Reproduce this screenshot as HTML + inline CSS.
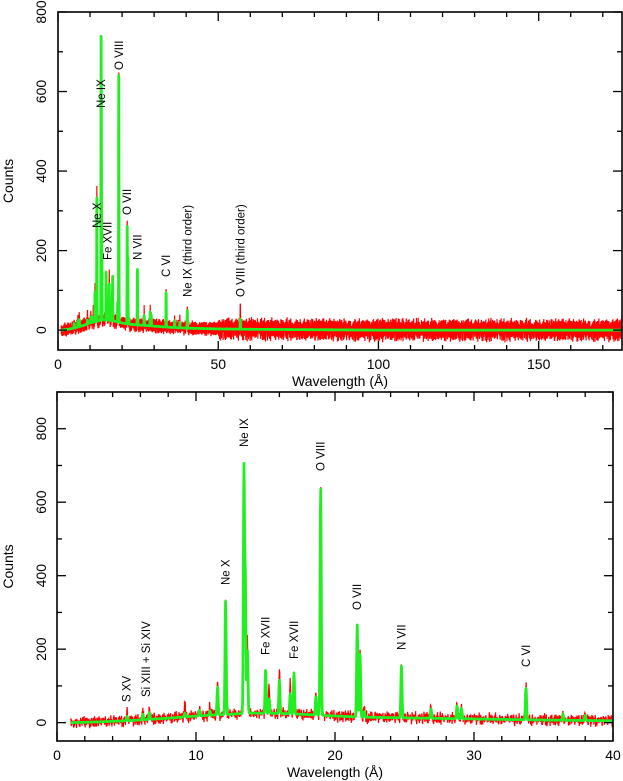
<!DOCTYPE html>
<html><head><meta charset="utf-8"><style>
html,body{margin:0;padding:0;background:#fff;}
svg{display:block;font-family:"Liberation Sans",sans-serif;}
</style></head><body>
<svg id="chart" width="623" height="781" viewBox="0 0 623 781"></svg>
<script>
// ---- data arrays ----
const lineWave   = [5.04, 6.18, 6.65, 9.2, 10.24, 11.0, 11.55, 12.13, 13.45, 13.55, 13.7, 15.01, 15.26, 16.0, 16.78, 17.05, 18.63, 18.97, 21.6, 21.8, 22.1, 24.78, 26.9, 28.78, 29.1, 33.74, 36.4, 38.0, 40.35, 56.9];
const lineModel  = [12, 15, 18, 10, 15, 12, 75, 310, 665, 360, 170, 120, 40, 90, 55, 112, 50, 620, 250, 170, 15, 142, 25, 35, 28, 88, 17, 14, 45, 25];
const lineData   = [20, 22, 28, 35, 25, 30, 88, 330, 650, 430, 200, 118, 85, 118, 85, 110, 58, 630, 260, 185, 25, 142, 35, 40, 32, 100, 22, 22, 45, 65];
const contWave   = [0, 1, 3, 5, 8, 10, 12, 14, 16, 18, 20, 22, 25, 30, 35, 40, 50, 60, 100, 176];
const contLevel  = [0, 0, 2, 5, 12, 18, 22, 26, 25, 22, 18, 15, 13, 10, 7, 5, 3, 2, 0, 0];
const noiseVals  = [0.3,-0.8,0.5,1.0,-0.4,-1.0,0.7,0.1,-0.6,0.9,-0.2,0.4,-0.9,0.6,-0.3,0.8,-0.7,0.2,1.0,-0.5,0.0,-0.9,0.5,0.3,-0.6,0.7,-1.0,0.4,0.9,-0.2,-0.5,0.6,-0.8,0.1,0.8,-0.4,0.3,-0.7,1.0,-0.1,0.5,-0.9,0.2,0.7,-0.3,-0.8,0.6,0.0,0.9,-0.6,0.4,-0.4,0.1];
const yTicks = [0, 200, 400, 600, 800];
const topXTicks = [0, 50, 100, 150];
const botXTicks = [0, 10, 20, 30, 40];
const topLabels = [["Ne X",12.13,228],["Ne IX",13.45,108],["O VIII",18.97,70],["Fe XVII",15.5,260],["O VII",21.6,215],["N VII",24.78,260],["C VI",33.74,277],["Ne IX (third order)",40.35,297],["O VIII (third order)",56.9,297]];
const botLabels = [["S XV",5.0,702],["Si XIII + Si XIV",6.4,697],["Ne X",12.13,585],["Ne IX",13.45,447],["Fe XVII",15.01,655],["Fe XVII",17.05,659],["O VIII",18.97,471],["O VII",21.6,610],["N VII",24.78,650],["C VI",33.74,667]];

const NS="http://www.w3.org/2000/svg";
const svg=document.getElementById('chart');
function el(tag,attrs,parent){const e=document.createElementNS(NS,tag);for(const k in attrs)e.setAttribute(k,attrs[k]);(parent||svg).appendChild(e);return e;}
function cont(w){for(let i=1;i<contWave.length;i++){if(w<=contWave[i]){const t=(w-contWave[i-1])/(contWave[i]-contWave[i-1]);return contLevel[i-1]+t*(contLevel[i]-contLevel[i-1]);}}return 0;}
function lines(w,arr,sig){let s=0;for(let i=0;i<lineWave.length;i++){const d=(w-lineWave[i])/sig;if(Math.abs(d)<5)s+=arr[i]*Math.exp(-0.5*d*d);}return s;}
function noise(i){return 0.6*noiseVals[i%noiseVals.length]+0.5*noiseVals[(i*7+3)%47];}

function panel(p){
  const g=el('g',{});
  
  
  const X=w=>p.x0+(w-p.xmin)/(p.xmax-p.xmin)*(p.x1-p.x0);
  const Y=c=>p.y0-(c-p.ymin)/(p.ymax-p.ymin)*(p.y0-p.y1);
  let dRed='',dGreen='';let i=0;
  for(let w=p.start;w<=p.end;w+=p.step,i++){
    const c=cont(w);
    const amp=w<50?p.nAmp:p.nAmp2;
    const m=c+lines(w,lineModel,p.sig);
    const d=c+lines(w,lineData,p.sig)+amp*noise(i);
    dRed+=(i?'L':'M')+X(w).toFixed(2)+' '+Y(d).toFixed(2);
    dGreen+=(i?'L':'M')+X(w).toFixed(2)+' '+Y(m).toFixed(2);
  }
  const r=el('path',{d:dRed,fill:'none',stroke:'#ff0000','stroke-width':1.2},g);
  
  
  const gr=el('path',{d:dGreen,fill:'none',stroke:'#22ee22','stroke-width':2.8,'stroke-linejoin':'round'},g);
  
  
  const fr=el('rect',{x:p.x0,y:p.y1,width:p.x1-p.x0,height:p.y0-p.y1,fill:'none',stroke:'#000','stroke-width':1.6},g);
  
  
  for(let v=0;v<=p.ymax;v+=100){const y=Y(v);const L=(v%200===0)?9:5;
    el('line',{x1:p.x0,x2:p.x0+L,y1:y,y2:y,stroke:'#000','stroke-width':1.3},g);el('line',{x1:p.x1,x2:p.x1-L,y1:y,y2:y,stroke:'#000','stroke-width':1.3},g);}
  yTicks.forEach(v=>{const y=Y(v);const t=el('text',{x:0,y:0,transform:`translate(46,${y}) rotate(-90)`,'text-anchor':'middle','font-size':14},g);t.textContent=v;
    
    });
  for(let v=p.xmin;v<=p.xmax;v+=p.minor){const x=X(v);const L=(Math.abs(v/p.major-Math.round(v/p.major))<1e-6)?9:5;
    el('line',{x1:x,x2:x,y1:p.y0,y2:p.y0-L,stroke:'#000','stroke-width':1.3},g);el('line',{x1:x,x2:x,y1:p.y1,y2:p.y1+L,stroke:'#000','stroke-width':1.3},g);}
  p.xt.forEach(v=>{const t=el('text',{x:X(v),y:p.y0+19,'text-anchor':'middle','font-size':14},g);t.textContent=v;
    
    });
  const xl=el('text',{x:(p.x0+p.x1)/2,y:p.y0+36,'text-anchor':'middle','font-size':14},g);xl.textContent='Wavelength (Å)';
  
  
  const yl=el('text',{x:0,y:0,transform:`translate(13,${(p.y0+p.y1)/2}) rotate(-90)`,'text-anchor':'middle','font-size':14},g);yl.textContent='Counts';
  
  
  p.labels.forEach(l=>{const t=el('text',{x:0,y:0,transform:`translate(${X(l[1])+4},${l[2]}) rotate(-90)`,'font-size':11.5},g);t.textContent=l[0];
    
    });
}
panel({name:'full-spectrum-panel',x0:58,x1:622,xmin:0,xmax:176,y0:350,y1:12,ymin:-50,ymax:800,start:1,end:176,step:0.03,sig:0.05,nAmp:18,nAmp2:28,minor:10,major:50,xt:topXTicks,labels:topLabels});
panel({name:'zoomed-spectrum-panel',x0:57,x1:613,xmin:0,xmax:40,y0:741,y1:392,ymin:-50,ymax:900,start:1,end:40,step:0.025,sig:0.04,nAmp:17,nAmp2:17,minor:2,major:10,xt:botXTicks,labels:botLabels});
</script>
</body></html>
